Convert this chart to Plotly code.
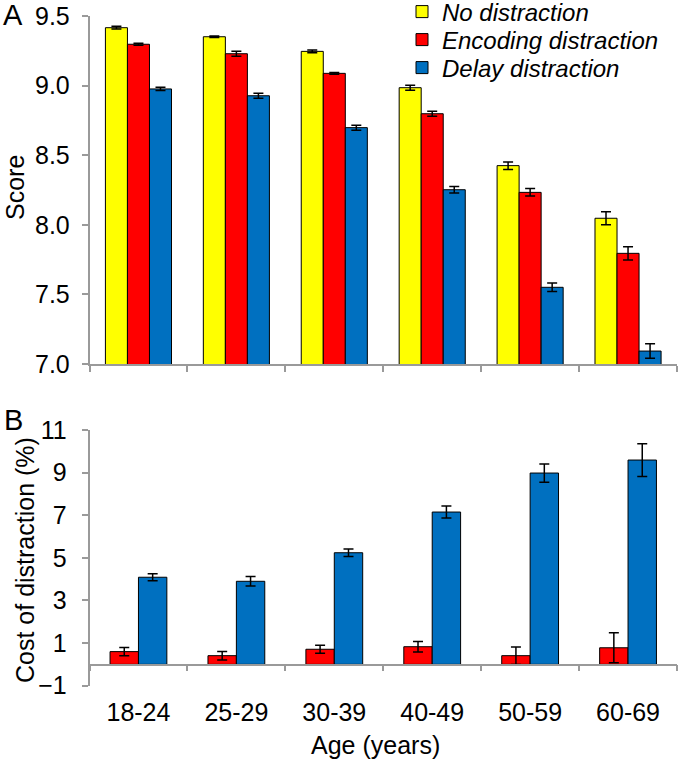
import plotly.graph_objects as go

ages = ["18-24", "25-29", "30-39", "40-49", "50-59", "60-69"]

# Panel A: scores
no_dist = [9.416, 9.351, 9.246, 8.985, 8.425, 8.047]
no_dist_err = [0.010, 0.006, 0.010, 0.018, 0.027, 0.047]
enc_dist = [9.297, 9.229, 9.088, 8.798, 8.233, 7.795]
enc_dist_err = [0.008, 0.018, 0.006, 0.018, 0.027, 0.047]
del_dist = [8.976, 8.927, 8.698, 8.252, 7.551, 7.093]
del_dist_err = [0.012, 0.018, 0.018, 0.024, 0.030, 0.052]

# Panel B: cost of distraction (%)
enc_cost = [0.60, 0.41, 0.71, 0.83, 0.41, 0.78]
enc_cost_err = [0.19, 0.20, 0.19, 0.25, 0.41, 0.70]
del_cost = [4.09, 3.90, 5.24, 7.15, 8.98, 9.59]
del_cost_err = [0.16, 0.22, 0.18, 0.28, 0.43, 0.77]

YELLOW = "#FFFF00"
RED = "#FF0000"
BLUE = "#0070C0"
AXIS = "#9a9a9a"
FONT = "Liberation Sans"

W, H = 680, 762


def px(x):
    return x / W


def py(y):
    return 1 - y / H


fig = go.Figure()

wa = 0.225
legend_rows = [("legend", 12), ("legend2", 40), ("legend3", 68)]
for (name, vals, errs, col, off), (lg, _) in zip([
    ("No distraction", no_dist, no_dist_err, YELLOW, -1.5 * wa),
    ("Encoding distraction", enc_dist, enc_dist_err, RED, -0.5 * wa),
    ("Delay distraction", del_dist, del_dist_err, BLUE, 0.5 * wa),
], legend_rows):
    fig.add_trace(go.Bar(
        x=ages, y=vals, name=name, xaxis="x", yaxis="y", legend=lg,
        width=wa, offset=off,
        marker=dict(color=col, line=dict(color="black", width=1)),
        error_y=dict(type="data", array=errs, color="black", thickness=1.5, width=5),
    ))

wb = 0.29
for name, vals, errs, col, off in [
    ("Encoding distraction", enc_cost, enc_cost_err, RED, -wb),
    ("Delay distraction", del_cost, del_cost_err, BLUE, 0.0),
]:
    fig.add_trace(go.Bar(
        x=ages, y=vals, name=name, xaxis="x2", yaxis="y2",
        width=wb, offset=off, showlegend=False,
        marker=dict(color=col, line=dict(color="black", width=1)),
        error_y=dict(type="data", array=errs, color="black", thickness=1.5, width=5),
    ))

xdom = [px(89.5), px(677)]
tickfont = dict(family=FONT, size=25, color="black")

legend_style = dict(
    x=px(402), xanchor="left", yanchor="middle",
    font=dict(family=FONT, size=24, color="black", style="italic"),
    bgcolor="rgba(0,0,0,0)", borderwidth=0, itemwidth=30,
)

fig.update_layout(
    width=W, height=H,
    template="none",
    paper_bgcolor="white", plot_bgcolor="white",
    margin=dict(l=0, r=0, t=0, b=0, pad=0, autoexpand=False),
    barmode="overlay",
    showlegend=True,
    legend=dict(y=py(legend_rows[0][1]), **legend_style),
    legend2=dict(y=py(legend_rows[1][1]), **legend_style),
    legend3=dict(y=py(legend_rows[2][1]), **legend_style),
    xaxis=dict(
        domain=xdom, anchor="y", type="category", range=[-0.5, 5.5],
        showline=True, linecolor=AXIS, linewidth=1.5,
        ticks="outside", tickson="boundaries", ticklen=6, tickcolor=AXIS, tickwidth=1.5,
        showticklabels=False, showgrid=False, zeroline=False,
    ),
    yaxis=dict(
        domain=[py(364), py(16)], anchor="x", range=[7.0, 9.5],
        tick0=7.0, dtick=0.5, tickformat=".1f",
        showline=True, linecolor=AXIS, linewidth=1.5,
        ticks="outside", ticklen=6, tickcolor=AXIS, tickwidth=1.5,
        tickfont=tickfont, ticklabelstandoff=7,
        showgrid=False, zeroline=False,
    ),
    xaxis2=dict(
        domain=xdom, anchor="free", position=py(664.5), type="category", range=[-0.5, 5.5],
        showline=True, linecolor=AXIS, linewidth=1.5,
        ticks="outside", tickson="boundaries", ticklen=6, tickcolor=AXIS, tickwidth=1.5,
        tickfont=tickfont, ticklabelstandoff=26,
        showgrid=False, zeroline=False,
    ),
    yaxis2=dict(
        domain=[py(685.7), py(430)], anchor="x2", range=[-1, 11],
        tick0=-1, dtick=2,
        showline=True, linecolor=AXIS, linewidth=1.5,
        ticks="outside", ticklen=6, tickcolor=AXIS, tickwidth=1.5,
        tickfont=tickfont, ticklabelstandoff=10,
        showgrid=False, zeroline=False,
    ),
)

ann = [
    dict(text="A", x=px(1), y=py(15), xanchor="left", yanchor="middle", size=29, angle=0),
    dict(text="B", x=px(2), y=py(420), xanchor="left", yanchor="middle", size=29, angle=0),
    dict(text="Score", x=px(15), y=py(188), xanchor="center", yanchor="middle", size=25, angle=-90),
    dict(text="Cost of distraction (%)", x=px(25), y=py(560), xanchor="center", yanchor="middle", size=25, angle=-90),
    dict(text="Age (years)", x=px(375), y=py(745), xanchor="center", yanchor="middle", size=25, angle=0),
]
for a in ann:
    fig.add_annotation(
        text=a["text"], xref="paper", yref="paper", x=a["x"], y=a["y"],
        xanchor=a["xanchor"], yanchor=a["yanchor"], textangle=a["angle"],
        showarrow=False, font=dict(family=FONT, size=a["size"], color="black"),
    )

fig.write_html(
    "out.html",
    config={"displayModeBar": False},
    post_script="document.body.style.margin='0px';",
)
